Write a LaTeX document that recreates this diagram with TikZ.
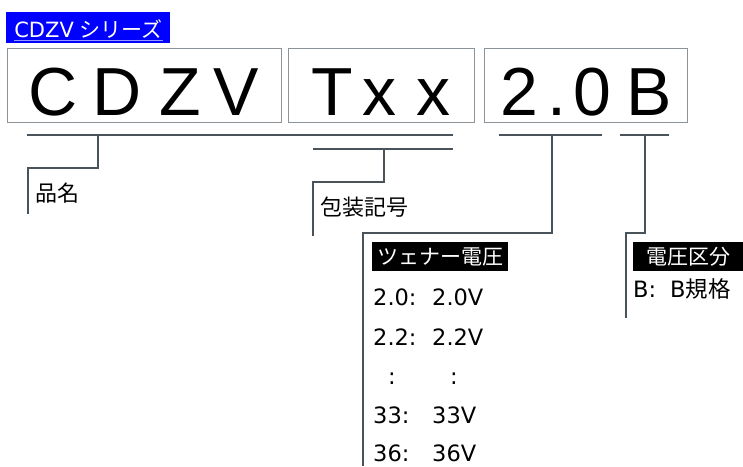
\documentclass[tikz,border=0pt]{standalone}
\usepackage{fontspec}
\setmainfont{Liberation Sans}
\newfontfamily\jpfont{Noto Sans CJK JP}
\newfontfamily\latfont{DejaVu Sans}
\definecolor{hdrblue}{RGB}{0,0,255}
\definecolor{linegray}{RGB}{74,82,90}
\definecolor{boxgray}{RGB}{140,147,153}
\definecolor{ulblue}{RGB}{150,150,255}
\begin{document}
\begin{tikzpicture}[x=1pt,y=-1pt,
  codebox/.style={draw=boxgray,line width=1pt,inner sep=0pt},
  bigch/.style={anchor=base,inner sep=0pt,font=\fontsize{68}{68}\selectfont},
  lbl/.style={inner sep=0pt,font=\jpfont\fontsize{22}{22}\selectfont},
  rowtxt/.style={anchor=base west,inner sep=0pt,font=\latfont\fontsize{22.5}{22.5}\selectfont},
  blacklbl/.style={fill=black,text=white,inner sep=0pt,font=\jpfont\fontsize{21}{21}\selectfont},
  bracket/.style={draw=linegray,line width=2.6pt}]
\useasboundingbox (0,0) rectangle (743,466);
% header
\node[fill=hdrblue,minimum width=164pt,minimum height=31pt,inner sep=0pt] (hdr) at (88,27.5) {};
\node[text=white,anchor=base,inner sep=0pt,font=\fontsize{21}{21}\selectfont] (htxt) at (88.5,37) {{\latfont CDZV} {\jpfont シリーズ}};
\draw[ulblue,line width=1pt] ([yshift=-3.5pt]htxt.base west) -- ([yshift=-3.5pt]htxt.base east);
% boxes
\node[codebox,minimum width=274pt,minimum height=74pt] (b1) at (144,85) {};
\node[codebox,minimum width=186pt,minimum height=74pt] (b2) at (381,85) {};
\node[codebox,minimum width=203pt,minimum height=74pt] (b3) at (585.5,85) {};
\node[bigch] (c1) at (53,115) {C};
\node[bigch] (c2) at (117,115) {D};
\node[bigch] (c3) at (180,115) {Z};
\node[bigch] (c4) at (236,115) {V};
\node[bigch] (c5) at (332,115) {T};
\node[bigch] (c6) at (379,115) {x};
\node[bigch] (c7) at (433,115) {x};
\node[bigch] (c8) at (519,115) {2};
\node[bigch] (c9) at (557,115) {.};
\node[bigch] (c10) at (592,115) {0};
\node[bigch] (c11) at (649,115) {B};
% bracket coordinates
\coordinate (a1) at (27,135); \coordinate (a2) at (453,135);
\coordinate (a3) at (98,135); \coordinate (a4) at (98,168);
\coordinate (a5) at (28,168); \coordinate (a6) at (28,214);
\coordinate (p1) at (313,149); \coordinate (p2) at (453,149);
\coordinate (p3) at (384,149); \coordinate (p4) at (384,182);
\coordinate (p5) at (313,182); \coordinate (p6) at (313,236);
\coordinate (z1) at (499,135); \coordinate (z2) at (602,135);
\coordinate (z3) at (552,135); \coordinate (z4) at (552,233);
\coordinate (z5) at (363,233); \coordinate (z6) at (363,466);
\coordinate (k1) at (620,135); \coordinate (k2) at (669,135);
\coordinate (k3) at (645,135); \coordinate (k4) at (645,233);
\coordinate (k5) at (626,233); \coordinate (k6) at (626,318);
\draw[bracket] (a1) -- (a2);
\draw[bracket] (a3) -- (a4) -- (a5) -- (a6);
\draw[bracket] (p1) -- (p2);
\draw[bracket] (p3) -- (p4) -- (p5) -- (p6);
\draw[bracket] (z1) -- (z2);
\draw[bracket] (z3) -- (z4) -- (z5) -- (z6);
\draw[bracket] (k1) -- (k2);
\draw[bracket] (k3) -- (k4) -- (k5) -- (k6);
% labels
\node[lbl,anchor=west] (hinmei) at (35,193) {品名};
\node[lbl,anchor=west] (hoso) at (320,207) {包装記号};
\node[blacklbl,minimum width=136pt,minimum height=29pt] (zlbl) at (440,256.5) {ツェナー電圧};
\node[blacklbl,minimum width=110pt,minimum height=29pt] (klbl) at (688,256.5) {電圧区分};
% zener rows
\node[rowtxt] (r1a) at (373,305) {2.0:};
\node[rowtxt] (r1b) at (432,305) {2.0V};
\node[rowtxt] (r2a) at (373,345) {2.2:};
\node[rowtxt] (r2b) at (432,345) {2.2V};
\node[anchor=base,inner sep=0pt,font=\latfont\fontsize{22.5}{22.5}\selectfont] (r3a) at (392,384) {:};
\node[anchor=base,inner sep=0pt,font=\latfont\fontsize{22.5}{22.5}\selectfont] (r3b) at (454,384) {:};
\node[rowtxt] (r4a) at (373,423) {33:};
\node[rowtxt] (r4b) at (432,423) {33V};
\node[rowtxt] (r5a) at (373,461) {36:};
\node[rowtxt] (r5b) at (432,461) {36V};
% class row
\node[rowtxt] (s1a) at (633,297) {B:};
\node[rowtxt] (s1b) at (670,297) {B{\jpfont 規格}};
\end{tikzpicture}
\end{document}
